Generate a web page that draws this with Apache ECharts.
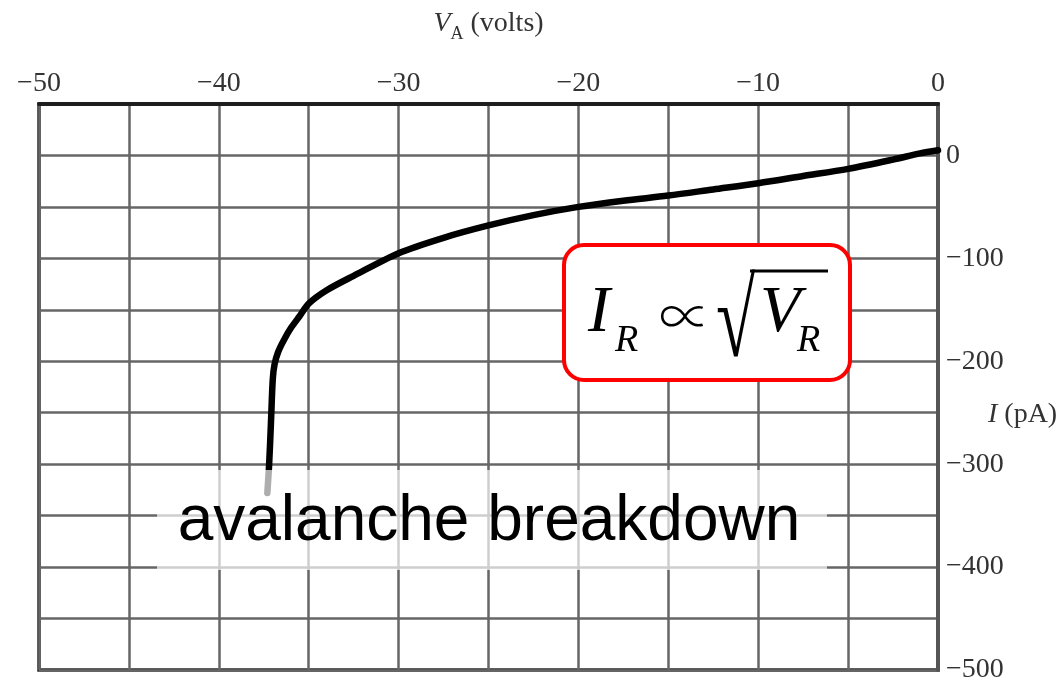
<!DOCTYPE html>
<html>
<head>
<meta charset="utf-8">
<title>Reverse-bias I–V characteristic</title>
<script src="https://cdn.jsdelivr.net/npm/echarts@6/dist/echarts.min.js"></script>
<style>
  html, body { margin: 0; padding: 0; background: #ffffff; }
  #chart { width: 1064px; height: 686px; }
</style>
</head>
<body>
<div id="chart"></div>
<script>
// Applied voltage V_A (volts) and measured current I (pA) along the trace
const voltage = [0, -1, -2.5, -5, -7.5, -10, -12.5, -15, -17.5, -20, -22.5, -25, -27.5, -30,
  -32.5, -34, -35, -35.5, -36, -36.4, -36.7, -36.9, -37.0, -37.1, -37.2, -37.3];
const current = [5, 2, -4, -13, -20, -27, -33, -39, -44, -50, -58, -68, -80, -95,
  -117, -131, -144, -156, -168, -180, -191, -203, -218, -260, -300, -328];

// Axis ranges and tick spacing
const xRange = [-50, 0];
const xStep = 5;
const xLabelStep = 10;
const yRange = [-500, 50];
const yStep = 50;
const yLabelStep = 100;

// Annotation texts
const formulaParts = ['I', 'R', '∝', '√', 'V', 'R'];
const breakdownText = 'avalanche breakdown';

const points = voltage.map((v, i) => [v, current[i]]);

const fmt = v => (v < 0 ? '−' + (-v) : String(v));

const serif = '"Liberation Serif", "DejaVu Serif", serif';
const axisText = '#333333';
const gridColor = '#666666';

const chart = echarts.init(document.getElementById('chart'), null, { renderer: 'canvas' });

chart.setOption({
  backgroundColor: '#ffffff',
  animation: false,
  grid: {
    left: 39, top: 104, width: 899, height: 566,
    outerBoundsMode: 'none', containLabel: false,
    show: true, borderColor: '#2a2a2a', borderWidth: 3.5, backgroundColor: 'transparent'
  },
  xAxis: {
    type: 'value', position: 'top',
    min: xRange[0], max: xRange[1], interval: xStep,
    name: '{v|V}{a|A} (volts)',
    nameLocation: 'middle', nameGap: 80, nameMoveOverlap: false,
    nameTextStyle: {
      fontFamily: serif, fontSize: 28, color: axisText,
      align: 'center', verticalAlign: 'middle', lineHeight: 34,
      rich: {
        v: { fontFamily: serif, fontSize: 28, fontStyle: 'italic', color: axisText, lineHeight: 34 },
        a: { fontFamily: serif, fontSize: 18, color: axisText, verticalAlign: 'top', padding: [18, 0, 0, 0], lineHeight: 18 }
      }
    },
    axisLine: { show: true, onZero: false, lineStyle: { color: '#1e1e1e', width: 4 } },
    axisTick: { show: false },
    axisLabel: {
      margin: 6, fontFamily: serif, fontSize: 28, color: axisText,
      formatter: v => (Math.round(v) % xLabelStep === 0 ? fmt(v) : '')
    },
    splitLine: { show: true, lineStyle: { color: gridColor, width: 2.5 } }
  },
  yAxis: {
    type: 'value', position: 'right',
    min: yRange[0], max: yRange[1], interval: yStep,
    name: '{i|I} (pA)',
    nameLocation: 'middle', nameGap: 50, nameRotate: 0, nameMoveOverlap: false,
    nameTextStyle: {
      fontFamily: serif, fontSize: 28, color: axisText,
      align: 'left', verticalAlign: 'middle', padding: [56, 0, 0, 0],
      rich: {
        i: { fontFamily: serif, fontSize: 28, fontStyle: 'italic', color: axisText }
      }
    },
    axisLine: { show: true, onZero: false, lineStyle: { color: '#555555', width: 4 } },
    axisTick: { show: false },
    axisLabel: {
      margin: 8, fontFamily: serif, fontSize: 28, color: axisText,
      formatter: v => (Math.round(v) % yLabelStep === 0 ? fmt(v) : '')
    },
    splitLine: { show: true, lineStyle: { color: gridColor, width: 2.5 } }
  },
  series: [{
    type: 'line',
    data: points,
    showSymbol: false,
    smooth: 0.3,
    lineStyle: { color: '#000000', width: 6.5, cap: 'round', join: 'round' },
    z: 5
  }],
  graphic: [
    // soft white backdrop behind the breakdown caption
    {
      type: 'rect', z: 100,
      shape: { x: 157, y: 470, width: 670, height: 100 },
      style: { fill: 'rgba(255,255,255,0.68)' }
    },
    {
      type: 'text', z: 101, x: 489, y: 522,
      style: {
        text: breakdownText, font: '64px "Liberation Sans", Arial, sans-serif',
        fill: '#000000', align: 'center', verticalAlign: 'middle'
      }
    },
    // proportionality box
    {
      type: 'rect', z: 100,
      shape: { x: 564, y: 245, width: 286, height: 135, r: 20 },
      style: { fill: '#ffffff', stroke: '#ff0000', lineWidth: 4 }
    },
    {
      type: 'text', z: 101, x: 588, y: 314,
      style: { text: formulaParts[0], font: 'italic 66px ' + serif, fill: '#000', align: 'left', verticalAlign: 'middle' }
    },
    {
      type: 'text', z: 101, x: 615, y: 341,
      style: { text: formulaParts[1], font: 'italic 38px ' + serif, fill: '#000', align: 'left', verticalAlign: 'middle' }
    },
    {
      type: 'text', z: 101, x: 685, y: 316,
      style: { text: formulaParts[2], font: '300 52px "Noto Sans CJK JP", serif', fill: '#000', align: 'center', verticalAlign: 'middle' }
    },
    {
      type: 'text', z: 101, x: 716, y: 327, scaleX: 0.85, scaleY: 1.3,
      style: { text: formulaParts[3], font: '84px ' + serif, fill: '#000', align: 'left', verticalAlign: 'middle' }
    },
    {
      type: 'line', z: 101,
      shape: { x1: 750, y1: 271, x2: 828, y2: 271 },
      style: { stroke: '#000', lineWidth: 3 }
    },
    {
      type: 'text', z: 101, x: 760, y: 314,
      style: { text: formulaParts[4], font: 'italic 66px ' + serif, fill: '#000', align: 'left', verticalAlign: 'middle' }
    },
    {
      type: 'text', z: 101, x: 797, y: 341,
      style: { text: formulaParts[5], font: 'italic 38px ' + serif, fill: '#000', align: 'left', verticalAlign: 'middle' }
    }
  ]
});
</script>
</body>
</html>
